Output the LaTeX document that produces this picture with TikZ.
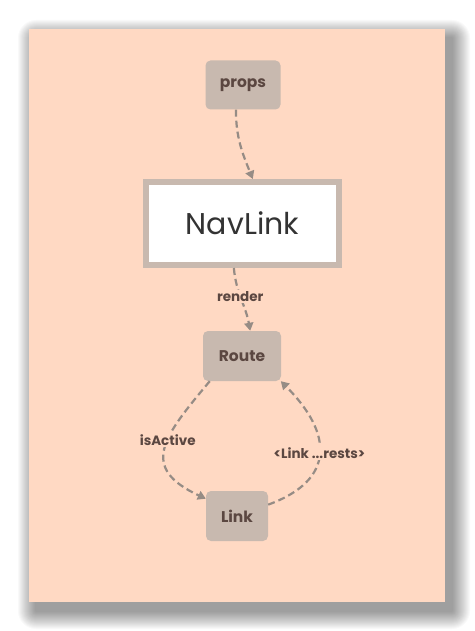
\documentclass[tikz,border=0pt]{standalone}
\usepackage{fontspec}
\setmainfont{Poppins}
\usetikzlibrary{arrows.meta}
\definecolor{bgpeach}{HTML}{FFD9C3}
\definecolor{nodefill}{HTML}{C8B9AF}
\definecolor{nodetext}{HTML}{5B4741}
\definecolor{edgecol}{HTML}{968C85}
\definecolor{navtext}{HTML}{333333}
\tikzset{
  x=1pt, y=1pt,
  smallbox/.style={fill=nodefill, rounded corners=5pt, text=nodetext,
    font=\bfseries\fontsize{15.5}{18}\selectfont, inner sep=0pt},
  mainbox/.style={draw=nodefill, fill=white, line width=6pt, text=navtext,
    minimum width=193pt, minimum height=83pt, inner sep=0pt,
    font=\fontsize{30}{36}\selectfont},
  flow/.style={draw=edgecol, line width=2.2pt, dash pattern=on 7pt off 4pt,
    -{Triangle[length=8pt,width=9pt]}},
  elabel/.style={fill=bgpeach, text=nodetext, inner sep=1.5pt,
    font=\bfseries\fontsize{13.5}{16}\selectfont},
  shadowlayer/.style={fill=black, opacity=0.022}
}
\begin{document}
\begin{tikzpicture}
\useasboundingbox (0,0) rectangle (474,-631);
\fill[white] (0,0) rectangle (474,-631);
\foreach \i in {1,...,18} {
  \fill[shadowlayer, rounded corners=\i pt]
    (36-\i,-38+\i) rectangle (452+\i,-611-\i);
}
\node[fill=bgpeach, minimum width=416pt, minimum height=573pt, inner sep=0pt]
  (bg) at (237,-315.5) {};
\node[smallbox, minimum width=75pt, minimum height=49pt] (props) at (243,-85) {props};
\node[mainbox] (nav) at (242.5,-223.5) {NavLink};
\node[smallbox, minimum width=78pt, minimum height=50pt] (route) at (242,-356) {Route};
\node[smallbox, minimum width=62pt, minimum height=50pt] (link) at (237,-516) {Link};
\draw[flow] (props.254) to[out=-90,in=112] (nav.77);
\draw[flow] (nav.259) to[out=-85,in=100] node[elabel, pos=0.45] {render} (route.72);
\draw[flow] (route.218) to[out=-130,in=155,looseness=1.6] node[elabel, pos=0.42] {isActive} (link.151);
\draw[flow] (link.20) to[out=20,in=-45,looseness=1.5] node[elabel, pos=0.5] {<Link ...rests>} (route.-33);
\end{tikzpicture}
\end{document}
